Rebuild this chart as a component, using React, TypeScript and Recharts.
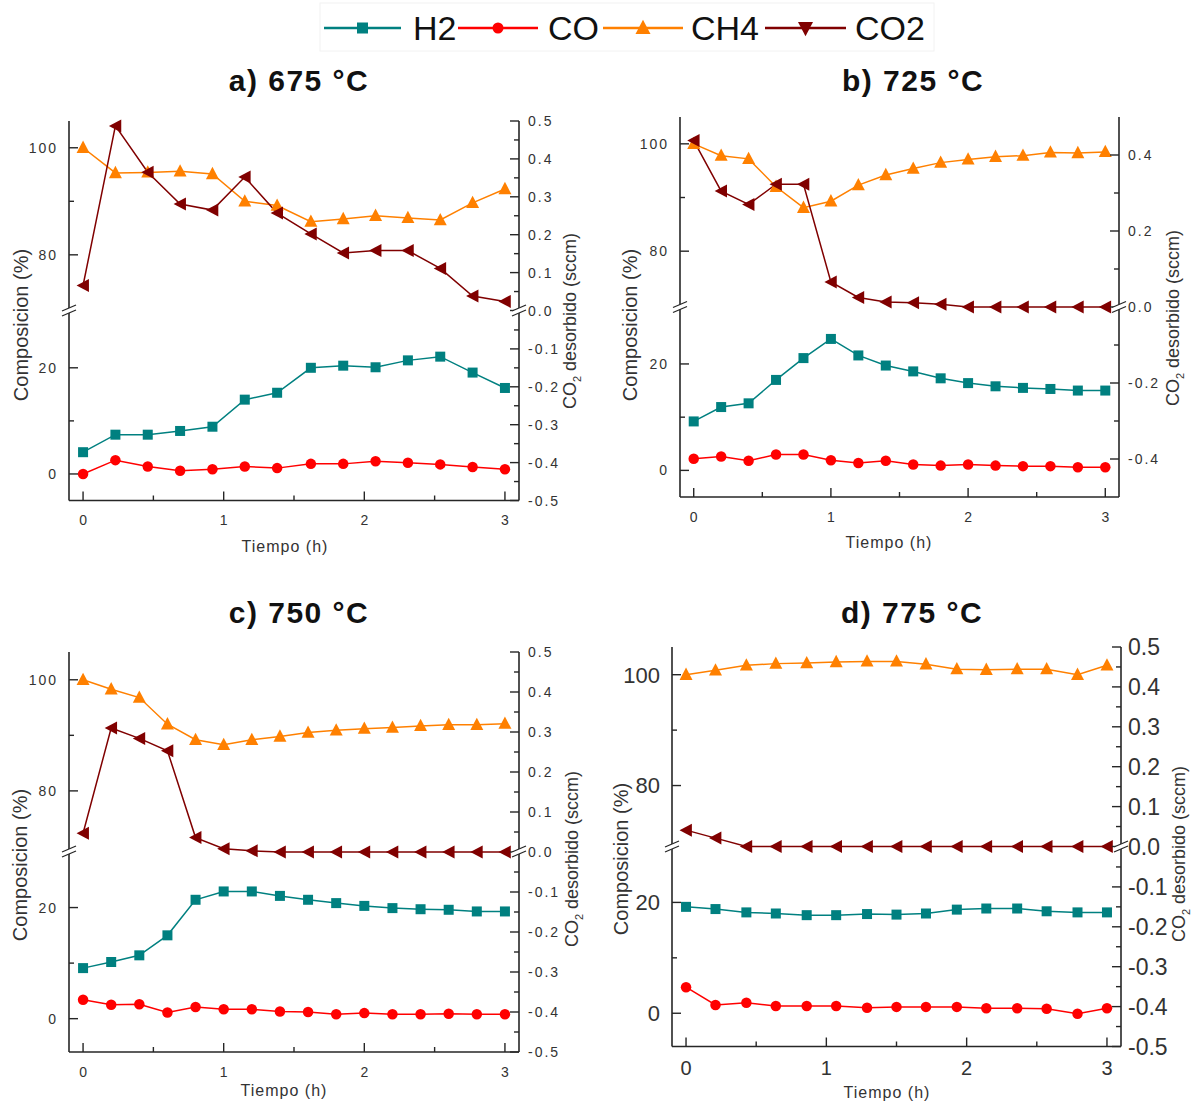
import React from 'react';
import { LineChart, Line, XAxis, YAxis } from 'recharts';

const FONT = 'Arial, "Liberation Sans", Helvetica, sans-serif';
const INK = '#333333';
const FRAME = '#262626';

// Series
const SERIES_NAMES = ['H2', 'CO', 'CH4', 'CO2'];
const SERIES_COLORS = ['#008080', '#ff0000', '#ff8000', '#800000'];

// Panel a) 675 °C
const tA = [0, 0.23, 0.46, 0.69, 0.92, 1.15, 1.38, 1.62, 1.85, 2.08, 2.31, 2.54, 2.77, 3];
const h2A = [4.1, 7.4, 7.4, 8.1, 8.9, 14.0, 15.3, 20.0, 20.4, 20.1, 21.4, 22.1, 19.1, 16.2];
const coA = [0, 2.6, 1.4, 0.6, 0.9, 1.4, 1.1, 1.9, 1.9, 2.4, 2.1, 1.8, 1.3, 0.9];
const ch4A = [100, 95.3, 95.4, 95.6, 95.1, 90.0, 89.2, 86.2, 86.7, 87.3, 86.9, 86.5, 89.7, 92.3];
const co2A = [0.066, 0.487, 0.365, 0.281, 0.265, 0.352, 0.257, 0.202, 0.152, 0.158, 0.158, 0.111, 0.038, 0.024];

// Panel b) 725 °C
const tB = [0, 0.2, 0.4, 0.6, 0.8, 1, 1.2, 1.4, 1.6, 1.8, 2, 2.2, 2.4, 2.6, 2.8, 3];
const h2B = [9.2, 11.9, 12.6, 17.0, 21.1, 24.7, 21.6, 19.7, 18.6, 17.3, 16.4, 15.8, 15.5, 15.3, 15.0, 15.0];
const coB = [2.2, 2.6, 1.8, 3.0, 3.0, 1.9, 1.4, 1.8, 1.1, 0.9, 1.1, 0.9, 0.8, 0.8, 0.6, 0.6];
const ch4B = [100, 97.8, 97.2, 92.0, 88.1, 89.3, 92.3, 94.2, 95.4, 96.5, 97.1, 97.6, 97.8, 98.4, 98.3, 98.5];
const co2B = [0.438, 0.305, 0.27, 0.323, 0.323, 0.066, 0.025, 0.013, 0.011, 0.007, 0, 0, 0, 0, 0, 0];

// Panel c) 750 °C
const tC = [0, 0.2, 0.4, 0.6, 0.8, 1, 1.2, 1.4, 1.6, 1.8, 2, 2.2, 2.4, 2.6, 2.8, 3];
const h2C = [9.1, 10.2, 11.4, 15.0, 21.4, 22.9, 22.9, 22.1, 21.4, 20.8, 20.3, 19.9, 19.7, 19.6, 19.3, 19.3];
const coC = [3.4, 2.5, 2.6, 1.1, 2.1, 1.7, 1.7, 1.3, 1.2, 0.8, 1.0, 0.8, 0.8, 0.9, 0.8, 0.8];
const ch4C = [100, 98.3, 96.8, 92.0, 89.2, 88.3, 89.2, 89.8, 90.5, 90.9, 91.2, 91.4, 91.7, 91.9, 91.9, 92.1];
const co2C = [0.047, 0.31, 0.284, 0.253, 0.036, 0.008, 0.003, 0, 0, 0, 0, 0, 0, 0, 0, 0];

// Panel d) 775 °C
const tD = [0, 0.21, 0.43, 0.64, 0.86, 1.07, 1.29, 1.5, 1.71, 1.93, 2.14, 2.36, 2.57, 2.79, 3];
const h2D = [19.2, 18.8, 18.2, 18.0, 17.7, 17.7, 17.9, 17.8, 18.0, 18.7, 18.9, 18.9, 18.4, 18.2, 18.2];
const coD = [4.7, 1.5, 1.9, 1.3, 1.3, 1.3, 1.0, 1.15, 1.15, 1.15, 0.9, 0.9, 0.8, -0.1, 0.9];
const ch4D = [100, 100.8, 101.7, 102.0, 102.1, 102.3, 102.4, 102.4, 101.9, 101.0, 100.9, 101.0, 101.0, 100, 101.7];
const co2D = [0.041, 0.021, 0, 0, 0, 0, 0, 0, 0, 0, 0, 0, 0, 0, 0];

// Tick labels
const X_DOMAIN: [number, number] = [-0.1, 3.1];
const X_TICKS = [0, 0.5, 1, 1.5, 2, 2.5, 3];
const X_MAJORS = [0, 1, 2, 3];
const LEFT_UP_TICKS = [80, 90, 100];
const LEFT_UP_MAJORS = [80, 100];
const LEFT_LOW_TICKS = [0, 10, 20];
const LEFT_LOW_MAJORS = [0, 20];
const R_UP_FINE = [0, 0.05, 0.1, 0.15, 0.2, 0.25, 0.3, 0.35, 0.4, 0.45, 0.5];
const R_UP_FINE_MAJ = [0, 0.1, 0.2, 0.3, 0.4, 0.5];
const R_LOW_FINE = [-0.5, -0.45, -0.4, -0.35, -0.3, -0.25, -0.2, -0.15, -0.1, -0.05];
const R_LOW_FINE_MAJ = [-0.5, -0.4, -0.3, -0.2, -0.1];
const R_UP_COARSE = [0, 0.1, 0.2, 0.3, 0.4];
const R_UP_COARSE_MAJ = [0, 0.2, 0.4];
const R_LOW_COARSE = [-0.4, -0.3, -0.2, -0.1];
const R_LOW_COARSE_MAJ = [-0.4, -0.2];

type PanelCfg = {
  id: string;
  title: string;
  t: number[]; h2: number[]; co: number[]; ch4: number[]; co2: number[];
  box: { left: number; right: number; top: number; brk: number; bottom: number };
  up: [number, number];
  low: [number, number];
  fine: boolean;
  font: { left: number; right: number; x: number; ls: number };
  gap: { left: number; right: number; x: number };
  titlePos: [number, number];
  yTitle: [number, number];
  rTitle: [number, number];
  xTitle: [number, number];
};

const PANELS: PanelCfg[] = [
  {
    id: 'a', title: 'a) 675 °C', t: tA, h2: h2A, co: coA, ch4: ch4A, co2: co2A,
    box: { left: 69, right: 519, top: 121, brk: 310.5, bottom: 500 },
    up: [69.6, 105], low: [-5, 30.7], fine: true,
    font: { left: 14, right: 14, x: 14, ls: 2 }, gap: { left: 13, right: 9, x: 15 },
    titlePos: [299, 80], yTitle: [21, 325], rTitle: [570, 321], xTitle: [285, 546],
  },
  {
    id: 'b', title: 'b) 725 °C', t: tB, h2: h2B, co: coB, ch4: ch4B, co2: co2B,
    box: { left: 680, right: 1119, top: 117, brk: 307, bottom: 497 },
    up: [69.6, 105], low: [-5, 30.7], fine: false,
    font: { left: 14, right: 14, x: 14, ls: 2 }, gap: { left: 13, right: 9, x: 15 },
    titlePos: [913, 80], yTitle: [630, 325], rTitle: [1173, 318], xTitle: [889, 542],
  },
  {
    id: 'c', title: 'c) 750 °C', t: tC, h2: h2C, co: coC, ch4: ch4C, co2: co2C,
    box: { left: 69, right: 519, top: 651.5, brk: 851.5, bottom: 1051.5 },
    up: [69, 105], low: [-6, 30], fine: true,
    font: { left: 14, right: 14, x: 14, ls: 2 }, gap: { left: 13, right: 9, x: 15 },
    titlePos: [299, 612], yTitle: [20, 865], rTitle: [572, 859], xTitle: [284, 1090],
  },
  {
    id: 'd', title: 'd) 775 °C', t: tD, h2: h2D, co: coD, ch4: ch4D, co2: co2D,
    box: { left: 672, right: 1121, top: 647, brk: 846.5, bottom: 1046 },
    up: [69, 105], low: [-6, 30], fine: true,
    font: { left: 22, right: 23, x: 20, ls: 0 }, gap: { left: 12, right: 7, x: 14 },
    titlePos: [912, 612], yTitle: [621, 859], rTitle: [1179, 854], xTitle: [887, 1092],
  },
];

const fmtInt = (v: number) => String(Math.round(v));
const fmtDec = (v: number) => (Math.abs(v) < 1e-9 ? '0.0' : v.toFixed(1));

type Side = 'left' | 'right' | 'bottom';

function makeTick(side: Side, majors: number[], fmt: (v: number) => string, fontSize: number, gap: number, ls: number) {
  return function TickMark(props: any) {
    const { x, y, payload } = props;
    const v = Number(payload && payload.value);
    const major = majors.some((m) => Math.abs(m - v) < 1e-6);
    const len = major ? 9 : 5;
    const textProps = {
      fill: INK,
      fontSize,
      fontFamily: FONT,
      style: { letterSpacing: `${ls}px` },
    };
    if (side === 'left') {
      return (
        <g>
          <line x1={x} y1={y} x2={x + len} y2={y} stroke={FRAME} strokeWidth={1.4} />
          {major && (
            <text x={x - gap + ls} y={y} dy="0.36em" textAnchor="end" {...textProps}>
              {fmt(v)}
            </text>
          )}
        </g>
      );
    }
    if (side === 'right') {
      return (
        <g>
          <line x1={x} y1={y} x2={x - len} y2={y} stroke={FRAME} strokeWidth={1.4} />
          {major && (
            <text x={x + gap} y={y} dy="0.36em" textAnchor="start" {...textProps}>
              {fmt(v)}
            </text>
          )}
        </g>
      );
    }
    return (
      <g>
        <line x1={x} y1={y} x2={x} y2={y - len} stroke={FRAME} strokeWidth={1.4} />
        {major && (
          <text x={x + ls / 2} y={y + gap} dy="0.71em" textAnchor="middle" {...textProps}>
            {fmt(v)}
          </text>
        )}
      </g>
    );
  };
}

type MarkerKind = 'square' | 'circle' | 'up' | 'down' | 'left';

function markerShape(kind: MarkerKind, cx: number, cy: number, color: string, s: number, key?: any) {
  switch (kind) {
    case 'square':
      return <rect key={key} x={cx - s / 2} y={cy - s / 2} width={s} height={s} fill={color} />;
    case 'circle':
      return <circle key={key} cx={cx} cy={cy} r={s / 2} fill={color} />;
    case 'up':
      return (
        <polygon key={key} points={`${cx},${cy - s * 0.55} ${cx + s / 2},${cy + s * 0.4} ${cx - s / 2},${cy + s * 0.4}`} fill={color} />
      );
    case 'down':
      return (
        <polygon key={key} points={`${cx},${cy + s * 0.55} ${cx + s / 2},${cy - s * 0.4} ${cx - s / 2},${cy - s * 0.4}`} fill={color} />
      );
    default:
      return (
        <polygon key={key} points={`${cx - s * 0.5},${cy} ${cx + s * 0.45},${cy - s / 2} ${cx + s * 0.45},${cy + s / 2}`} fill={color} />
      );
  }
}

function makeDot(kind: MarkerKind, color: string, s: number) {
  return function Dot(props: any) {
    const { cx, cy, index } = props;
    const k = props.key ?? `d-${index}`;
    if (cx == null || cy == null || isNaN(cx) || isNaN(cy)) return <g key={k} />;
    return markerShape(kind, cx, cy, color, s, k);
  };
}

const SERIES_MARKERS: MarkerKind[] = ['square', 'circle', 'up', 'left'];
const MARKER_SIZES = [10, 10.5, 13, 13];

function BrokenPanel({ p }: { p: PanelCfg }) {
  const rows = p.t.map((t, i) => ({ t, H2: p.h2[i], CO: p.co[i], CH4: p.ch4[i], CO2: p.co2[i] }));
  const { left, right, top, brk, bottom } = p.box;
  const YW = 70;
  const MT = 20;
  const MB = 16;
  const XH = 50;
  const w = right - left + 2 * YW;
  const upH = brk - top + MT + MB;
  const lowH = bottom - brk + MB + XH;
  const axisLine = { stroke: FRAME, strokeWidth: 1.6 };
  const rUp = p.fine ? R_UP_FINE : R_UP_COARSE;
  const rUpMaj = p.fine ? R_UP_FINE_MAJ : R_UP_COARSE_MAJ;
  const rLow = p.fine ? R_LOW_FINE : R_LOW_COARSE;
  const rLowMaj = p.fine ? R_LOW_FINE_MAJ : R_LOW_COARSE_MAJ;

  const lineFor = (idx: number, yAxisId: string) => (
    <Line
      key={SERIES_NAMES[idx]}
      xAxisId="x"
      yAxisId={yAxisId}
      dataKey={SERIES_NAMES[idx]}
      type="linear"
      stroke={SERIES_COLORS[idx]}
      strokeWidth={1.5}
      dot={makeDot(SERIES_MARKERS[idx], SERIES_COLORS[idx], MARKER_SIZES[idx])}
      activeDot={false}
      isAnimationActive={false}
    />
  );

  return (
    <>
      <div style={{ position: 'absolute', left: left - YW, top: top - MT, width: w, height: upH }}>
        <LineChart width={w} height={upH} data={rows} margin={{ top: MT, right: 0, bottom: MB, left: 0 }}>
          <XAxis
            xAxisId="x"
            dataKey="t"
            type="number"
            domain={X_DOMAIN}
            orientation="top"
            height={0}
            ticks={X_TICKS}
            tick={false}
            tickLine={false}
            axisLine={axisLine}
          />
          <YAxis
            yAxisId="L"
            orientation="left"
            width={YW}
            type="number"
            domain={p.up}
            ticks={LEFT_UP_TICKS}
            interval={0}
            tickSize={0}
            tickMargin={0}
            tickLine={false}
            axisLine={axisLine}
            tick={makeTick('left', LEFT_UP_MAJORS, fmtInt, p.font.left, p.gap.left, p.font.ls)}
          />
          <YAxis
            yAxisId="R"
            orientation="right"
            width={YW}
            type="number"
            domain={[0, 0.5]}
            ticks={rUp}
            interval={0}
            tickSize={0}
            tickMargin={0}
            tickLine={false}
            axisLine={axisLine}
            tick={makeTick('right', rUpMaj, fmtDec, p.font.right, p.gap.right, p.font.ls)}
          />
          {lineFor(2, 'L')}
          {lineFor(3, 'R')}
        </LineChart>
      </div>
      <div style={{ position: 'absolute', left: left - YW, top: brk - MB, width: w, height: lowH }}>
        <LineChart width={w} height={lowH} data={rows} margin={{ top: MB, right: 0, bottom: 0, left: 0 }}>
          <XAxis
            xAxisId="x"
            dataKey="t"
            type="number"
            domain={X_DOMAIN}
            orientation="bottom"
            height={XH}
            ticks={X_TICKS}
            interval={0}
            tickSize={0}
            tickMargin={0}
            tickLine={false}
            axisLine={axisLine}
            tick={makeTick('bottom', X_MAJORS, fmtInt, p.font.x, p.gap.x, p.font.ls)}
          />
          <YAxis
            yAxisId="L"
            orientation="left"
            width={YW}
            type="number"
            domain={p.low}
            ticks={LEFT_LOW_TICKS}
            interval={0}
            tickSize={0}
            tickMargin={0}
            tickLine={false}
            axisLine={axisLine}
            tick={makeTick('left', LEFT_LOW_MAJORS, fmtInt, p.font.left, p.gap.left, p.font.ls)}
          />
          <YAxis
            yAxisId="R"
            orientation="right"
            width={YW}
            type="number"
            domain={[-0.5, 0]}
            allowDataOverflow
            ticks={rLow}
            interval={0}
            tickSize={0}
            tickMargin={0}
            tickLine={false}
            axisLine={axisLine}
            tick={makeTick('right', rLowMaj, fmtDec, p.font.right, p.gap.right, p.font.ls)}
          />
          {lineFor(1, 'L')}
          {lineFor(0, 'L')}
        </LineChart>
      </div>
    </>
  );
}

function BreakMark({ x, y }: { x: number; y: number }) {
  const a = `${x - 7},${y + 0.5} ${x + 7},${y - 5.5}`;
  const b = `${x - 7},${y + 5.5} ${x + 7},${y - 0.5}`;
  return (
    <g>
      <polygon points={`${x - 7},${y + 0.5} ${x + 7},${y - 5.5} ${x + 7},${y - 0.5} ${x - 7},${y + 5.5}`} fill="#ffffff" />
      <polyline points={a} stroke={FRAME} strokeWidth={1.3} fill="none" />
      <polyline points={b} stroke={FRAME} strokeWidth={1.3} fill="none" />
    </g>
  );
}

const LEGEND_ITEMS = [
  { x1: 324, x2: 401, text: 413 },
  { x1: 458, x2: 538, text: 548 },
  { x1: 603, x2: 683, text: 691 },
  { x1: 765, x2: 846, text: 855 },
];
const LEGEND_MARKERS: MarkerKind[] = ['square', 'circle', 'up', 'down'];

function Overlay() {
  const ly = 28;
  return (
    <svg width={1193} height={1110} style={{ position: 'absolute', left: 0, top: 0, pointerEvents: 'none' }}>
      <rect x={320} y={3} width={614} height={48} fill="none" stroke="#f2f2f2" strokeWidth={1} />
      {LEGEND_ITEMS.map((it, i) => (
        <g key={SERIES_NAMES[i]}>
          <line x1={it.x1} y1={ly} x2={it.x2} y2={ly} stroke={SERIES_COLORS[i]} strokeWidth={2.4} />
          {markerShape(LEGEND_MARKERS[i], (it.x1 + it.x2) / 2, ly, SERIES_COLORS[i], i >= 2 ? 15 : 11)}
          <text x={it.text} y={ly + 12} fontSize={34} fontFamily={FONT} fill="#111">
            {SERIES_NAMES[i]}
          </text>
        </g>
      ))}
      {PANELS.map((p) => (
        <g key={p.id}>
          <text
            x={p.titlePos[0]}
            y={p.titlePos[1] + 10.7}
            textAnchor="middle"
            fontSize={30}
            fontWeight="bold"
            fontFamily={FONT}
            fill="#111"
            style={{ letterSpacing: '1.5px' }}
          >
            {p.title}
          </text>
          <text
            transform={`translate(${p.yTitle[0] + 7}, ${p.yTitle[1]}) rotate(-90)`}
            textAnchor="middle"
            fontSize={20}
            fontFamily={FONT}
            fill={INK}
          >
            Composicion (%)
          </text>
          <text
            transform={`translate(${p.rTitle[0] + 6}, ${p.rTitle[1]}) rotate(-90)`}
            textAnchor="middle"
            fontSize={18}
            fontFamily={FONT}
            fill={INK}
          >
            CO
            <tspan fontSize={11} dy={5}>2</tspan>
            <tspan dy={-5}> desorbido (sccm)</tspan>
          </text>
          <text
            x={p.xTitle[0]}
            y={p.xTitle[1] + 6}
            textAnchor="middle"
            fontSize={16}
            fontFamily={FONT}
            fill={INK}
            style={{ letterSpacing: '1px' }}
          >
            Tiempo (h)
          </text>
          <BreakMark x={p.box.left} y={p.box.brk} />
          <BreakMark x={p.box.right} y={p.box.brk} />
        </g>
      ))}
    </svg>
  );
}

export default function App() {
  return (
    <div
      style={{
        position: 'absolute',
        left: 0,
        top: 0,
        width: 1193,
        height: 1110,
        background: '#ffffff',
        fontFamily: FONT,
        overflow: 'hidden',
      }}
    >
      {PANELS.map((p) => (
        <BrokenPanel key={p.id} p={p} />
      ))}
      <Overlay />
    </div>
  );
}
